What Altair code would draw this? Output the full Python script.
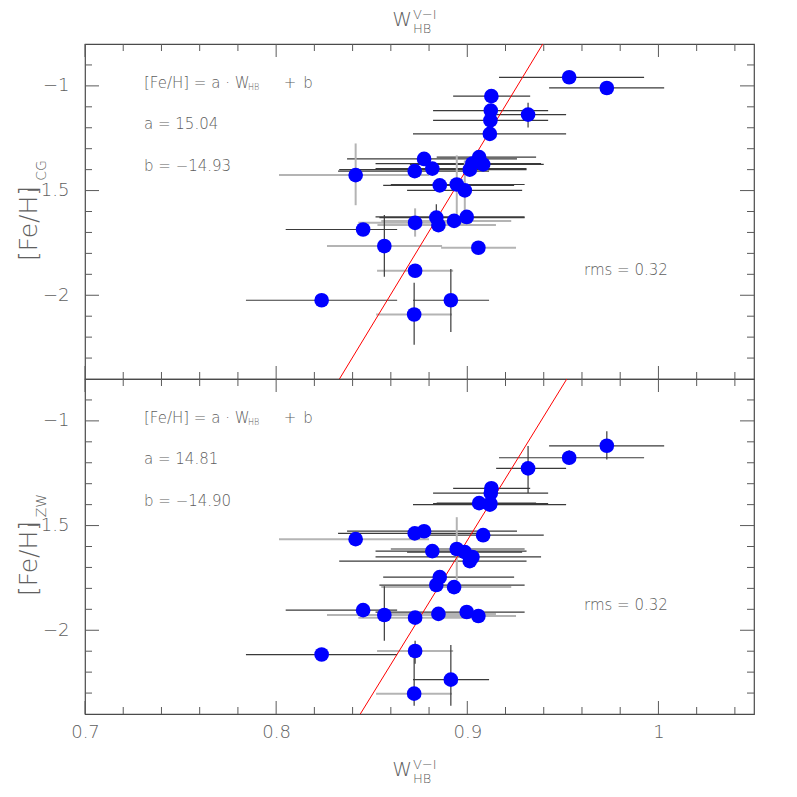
import altair as alt
import pandas as pd

# ---------------- data ----------------
w_hb = [0.9533, 0.9730, 0.9126, 0.9123, 0.9121, 0.9318, 0.9118, 0.8774, 0.9062, 0.9027,
        0.9083, 0.9013, 0.8725, 0.8817, 0.8416, 0.8856, 0.8945, 0.8987, 0.8838, 0.8849,
        0.8727, 0.8931, 0.8997, 0.8455, 0.8566, 0.9058, 0.8727, 0.8238, 0.8914, 0.8722]
w_lo = [0.9166, 0.9428, 0.8926, 0.8821, 0.8821, 0.9151, 0.8716, 0.8371, 0.8840, 0.8520,
        0.8700, 0.8330, 0.8324, 0.8520, 0.8015, 0.8560, 0.8600, 0.8685, 0.8540, 0.8530,
        0.8430, 0.8550, 0.8520, 0.8050, 0.8266, 0.8863, 0.8528, 0.7842, 0.8716, 0.8523]
w_hi = [0.9925, 1.0030, 0.9329, 0.9423, 0.9423, 0.9517, 0.9517, 0.9260, 0.9360, 0.9386,
        0.9400, 0.9310, 0.9114, 0.9310, 0.8800, 0.9245, 0.9300, 0.9287, 0.9300, 0.9150,
        0.9020, 0.9230, 0.9300, 0.8633, 0.8868, 0.9255, 0.8926, 0.8633, 0.9114, 0.8920]
w_err_light = [0, 0, 0, 0, 0, 0, 0, 0, 0, 0, 0, 0, 0, 0, 1, 0, 0, 0, 0, 1,
               1, 1, 0, 0, 1, 1, 1, 0, 0, 1]

feh_cg = [-0.959, -1.010, -1.049, -1.118, -1.165, -1.137, -1.229, -1.349, -1.340, -1.371,
          -1.375, -1.400, -1.407, -1.395, -1.426, -1.475, -1.471, -1.499, -1.629, -1.665,
          -1.654, -1.645, -1.626, -1.686, -1.765, -1.773, -1.883, -2.024, -2.024, -2.092]
cg_hi = [None, None, None, None, None, -1.080, None, None, None, None,
         None, None, None, None, -1.275, None, -1.332, -1.356, -1.565, None,
         -1.585, None, None, None, -1.617, None, None, None, -1.875, -1.940]
cg_lo = [None, None, None, None, None, -1.199, None, None, None, None,
         None, None, None, None, -1.570, None, -1.627, -1.627, -1.690, None,
         -1.720, None, None, None, -1.912, None, None, None, -2.175, -2.236]
cg_err_light = [0, 0, 0, 0, 0, 0, 0, 0, 0, 0, 0, 0, 0, 0, 1, 0, 1, 1, 0, 0,
                1, 0, 0, 0, 0, 0, 0, 0, 0, 0]

feh_zw = [-1.176, -1.119, -1.322, -1.345, -1.395, -1.227, -1.400, -1.527, -1.393, -1.650,
          -1.546, -1.670, -1.537, -1.622, -1.565, -1.746, -1.612, -1.627, -1.784, -1.922,
          -1.940, -1.794, -1.913, -1.904, -1.927, -1.932, -2.099, -2.116, -2.236, -2.303]
zw_hi = [-1.140, -1.050, None, None, None, -1.120, None, None, None, None,
         None, None, None, None, None, None, -1.460, None, None, None,
         None, None, None, None, -1.790, None, -2.050, None, -2.070, -2.070]
zw_lo = [-1.210, -1.185, None, None, None, -1.345, None, None, None, None,
         None, None, None, None, None, None, -1.760, None, None, None,
         None, None, None, None, -2.050, None, -2.160, None, -2.360, -2.360]
zw_err_light = [0, 0, 0, 0, 0, 0, 0, 0, 0, 0, 0, 0, 0, 0, 0, 0, 1, 0, 0, 0,
                0, 0, 0, 0, 0, 0, 0, 0, 0, 0]

fit_cg = {"a": 15.04, "b": -14.93, "rms": 0.32}
fit_zw = {"a": 14.81, "b": -14.90, "rms": 0.32}

x_domain = [0.7, 1.05]
y_domain = [-2.4, -0.8]
x_major = [0.7, 0.8, 0.9, 1.0]
x_minor = [0.72, 0.74, 0.76, 0.78, 0.82, 0.84, 0.86, 0.88, 0.92, 0.94, 0.96, 0.98,
           1.02, 1.04]
y_major = [-1.0, -1.5, -2.0]
y_minor = [-0.9, -1.1, -1.2, -1.3, -1.4, -1.6, -1.7, -1.8, -1.9, -2.1, -2.2, -2.3]

# ---------------- styling ----------------
FONT = "DejaVu Sans"
TXT = "#606060"
TICK = "#5a5a5a"
DARK = "#3a3a3a"
LIGHT = "#b4b4b4"
W = 669
H = 335

XS = alt.Scale(domain=x_domain, nice=False, zero=False)
YS = alt.Scale(domain=y_domain, nice=False, zero=False)
y_axis = alt.Axis(values=y_major, format=".1~f", ticks=False, domain=False, grid=False,
                  labelFont=FONT, labelFontSize=18, labelColor=TXT, labelPadding=16,
                  labelFontWeight=300, title=None)
x_axis_bottom = alt.Axis(values=x_major, format=".1~f", ticks=False, domain=False,
                         grid=False, labelFont=FONT, labelFontSize=18, labelColor=TXT,
                         labelFontWeight=300, labelPadding=9, title=None, labelFlush=False)


def txt(s, x, y, size=14, angle=0, align="left", baseline="middle"):
    return alt.Chart(pd.DataFrame({"t": [s]})).mark_text(
        align=align, baseline=baseline, fontSize=size, angle=angle, font=FONT,
        color=TXT, fontWeight=300
    ).encode(text="t:N", x=alt.value(x), y=alt.value(y))


def panel(yv, yhi, ylo, ylight, fit, sub, show_x):
    xa = x_axis_bottom if show_x else None

    def X(f):
        return alt.X(f, type="quantitative", scale=XS, axis=xa)

    def Y(f):
        return alt.Y(f, type="quantitative", scale=YS, axis=y_axis)

    df = pd.DataFrame({
        "w": w_hb, "lo": w_lo, "hi": w_hi, "y": yv, "yhi": yhi, "ylo": ylo,
        "xc": [LIGHT if v else DARK for v in w_err_light],
        "xw": [2.0 if v else 1.2 for v in w_err_light],
        "yc": [LIGHT if v else DARK for v in ylight],
        "yw": [2.0 if v else 1.2 for v in ylight],
    })

    xerr = alt.Chart(df).mark_rule().encode(
        x=X("lo"), x2=alt.X2("hi"), y=Y("y"),
        color=alt.Color("xc:N", scale=None), strokeWidth=alt.StrokeWidth("xw:Q", scale=None))
    yerr = alt.Chart(df).transform_filter("isValid(datum.ylo)").mark_rule().encode(
        x=X("w"), y=Y("yhi"), y2=alt.Y2("ylo"),
        color=alt.Color("yc:N", scale=None), strokeWidth=alt.StrokeWidth("yw:Q", scale=None))

    line_df = pd.DataFrame({"w": x_domain,
                            "y": [fit["a"] * v + fit["b"] for v in x_domain]})
    fit_line = alt.Chart(line_df).mark_line(color="#ff0000", strokeWidth=1, clip=True).encode(
        x=X("w"), y=Y("y"))

    pts = alt.Chart(df).mark_circle(size=215, color="#0000ff", opacity=1).encode(
        x=X("w"), y=Y("y"))

    xmaj = pd.DataFrame({"v": x_major})
    xmin = pd.DataFrame({"v": x_minor})
    ymaj = pd.DataFrame({"v": y_major})
    ymin = pd.DataFrame({"v": y_minor})
    ticks = []
    for d, L in ((xmaj, 13), (xmin, 7)):
        ticks.append(alt.Chart(d).mark_rule(color=TICK, strokeWidth=1).encode(
            x=X("v"), y=alt.value(0), y2=alt.value(L)))
        ticks.append(alt.Chart(d).mark_rule(color=TICK, strokeWidth=1).encode(
            x=X("v"), y=alt.value(H), y2=alt.value(H - L)))
    for d, L in ((ymaj, 14), (ymin, 7)):
        ticks.append(alt.Chart(d).mark_rule(color=TICK, strokeWidth=1).encode(
            y=Y("v"), x=alt.value(0), x2=alt.value(L)))
        ticks.append(alt.Chart(d).mark_rule(color=TICK, strokeWidth=1).encode(
            y=Y("v"), x=alt.value(W), x2=alt.value(W - L)))

    ann = [
        txt("[Fe/H] = a · W", 59, 39, 15),
        txt("HB", 163, 44, 8),
        txt("+", 205, 39, 15, align="center"),
        txt("b", 223, 39, 15, align="center"),
        txt(f"a = {fit['a']:.2f}", 59, 80, 15),
        txt(f"b = {fit['b']:.2f}".replace("-", "\u2212"), 59, 122, 15),
        txt(f"rms = {fit['rms']:.2f}", 499, 226, 15),
        # y title with subscript
        txt("[Fe/H]", -56, H / 2 + 12, 25, angle=270, align="center"),
        txt(sub, -43, H / 2 - 41, 14, angle=270, align="center"),
    ]
    yb = H + 62 if show_x else -18
    ann += [
        txt("W", 327, yb, 20, align="right", baseline="alphabetic"),
        txt("V\u2212I", 328, yb - 7, 13, baseline="alphabetic"),
        txt("HB", 328, yb + 7, 13, baseline="alphabetic"),
    ]

    return alt.layer(xerr, yerr, fit_line, pts, *ticks, *ann).properties(width=W, height=H)


top = panel(feh_cg, cg_hi, cg_lo, cg_err_light, fit_cg, "CG", False)
bottom = panel(feh_zw, zw_hi, zw_lo, zw_err_light, fit_zw, "ZW", True)

chart = alt.vconcat(top, bottom, spacing=0, bounds="flush").properties(
    padding={"left": 8, "top": 0, "right": 5, "bottom": 5}
).configure_view(stroke="#4a4a4a", strokeWidth=1.2).configure_concat(spacing=0)

chart.save("out.html", embed_options={"renderer": "svg", "actions": False})
